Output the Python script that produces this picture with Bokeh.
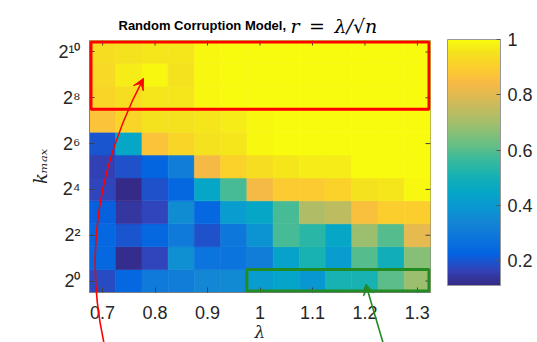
import numpy as np
from bokeh.plotting import figure
from bokeh.layouts import column
from bokeh.models import (ColumnDataSource, LinearColorMapper, ColorBar, FixedTicker,
                          Range1d, BoxAnnotation, Arrow, VeeHead, Label)
from bokeh.transform import transform
from bokeh.embed import file_html
from bokeh.resources import INLINE

# ---------------- data ----------------
lam = [0.70, 0.75, 0.80, 0.85, 0.90, 0.95, 1.00, 1.05, 1.10, 1.15, 1.20, 1.25, 1.30]
kexp = [0, 1, 2, 3, 4, 5, 6, 7, 8, 9, 10]          # k_max = 2**kexp
r_k0 = [0.18, 0.24, 0.30, 0.31, 0.34, 0.35, 0.41, 0.44, 0.39, 0.51, 0.51, 0.61, 0.69]
r_k1 = [0.24, 0.12, 0.17, 0.37, 0.28, 0.28, 0.31, 0.43, 0.51, 0.41, 0.60, 0.49, 0.66]
r_k2 = [0.24, 0.20, 0.24, 0.30, 0.19, 0.29, 0.38, 0.58, 0.54, 0.45, 0.69, 0.60, 0.81]
r_k3 = [0.22, 0.14, 0.17, 0.36, 0.24, 0.41, 0.45, 0.58, 0.72, 0.74, 0.86, 0.90, 0.90]
r_k4 = [0.17, 0.11, 0.19, 0.24, 0.45, 0.58, 0.84, 0.89, 0.89, 0.91, 0.95, 0.96, 0.99]
r_k5 = [0.16, 0.19, 0.23, 0.31, 0.84, 0.91, 0.94, 0.96, 0.97, 0.97, 1.00, 1.00, 1.00]
r_k6 = [0.20, 0.45, 0.87, 0.92, 0.95, 0.96, 0.99, 1.00, 1.00, 1.00, 1.00, 1.00, 1.00]
r_k7 = [0.87, 0.92, 0.95, 0.95, 0.96, 0.97, 0.99, 1.00, 1.00, 1.00, 1.00, 1.00, 1.00]
r_k8 = [0.92, 0.94, 0.96, 0.96, 0.99, 1.00, 1.00, 1.00, 1.00, 1.00, 1.00, 1.00, 1.00]
r_k9 = [0.93, 0.97, 0.99, 0.95, 0.99, 1.00, 1.00, 1.00, 1.00, 1.00, 1.00, 1.00, 1.00]
r_k10 = [0.94, 0.95, 0.96, 0.96, 0.99, 1.00, 1.00, 1.00, 1.00, 1.00, 1.00, 1.00, 1.00]
rows = [r_k0, r_k1, r_k2, r_k3, r_k4, r_k5, r_k6, r_k7, r_k8, r_k9, r_k10]

xtick_vals = [0.7, 0.8, 0.9, 1.0, 1.1, 1.2, 1.3]
xtick_labels = ["0.7", "0.8", "0.9", "1", "1.1", "1.2", "1.3"]
ytick_vals = [0, 2, 4, 6, 8, 10]
ytick_labels = ["2⁰", "2²", "2⁴", "2⁶", "2⁸", "2¹⁰"]
cbar_tick_vals = [0.2, 0.4, 0.6, 0.8, 1.0]
cbar_tick_labels = ["0.2", "0.4", "0.6", "0.8", "1"]

# ---------------- parula colormap ----------------
_anch = [
    (0.2081, 0.1663, 0.5292), (0.1959, 0.2645, 0.7279), (0.0117, 0.3875, 0.8820),
    (0.0498, 0.4586, 0.8641), (0.0793, 0.5200, 0.8312), (0.0343, 0.5966, 0.8199),
    (0.0228, 0.6535, 0.7768), (0.0843, 0.6928, 0.7062), (0.2178, 0.7250, 0.6193),
    (0.3953, 0.7459, 0.5244), (0.5709, 0.7485, 0.4494), (0.7184, 0.7411, 0.3905),
    (0.8507, 0.7299, 0.3360), (0.9739, 0.7314, 0.2666), (0.9880, 0.8066, 0.1794),
    (0.9589, 0.8949, 0.1132), (0.9763, 0.9831, 0.0538)]
_pos = np.array([0, 4, 8, 12, 16, 20, 24, 28, 32, 36, 40, 44, 48, 52, 56, 60, 63]) / 63.0
_a = np.array(_anch)
_t = np.linspace(0, 1, 256)
parula = ["#%02x%02x%02x" % tuple(int(round(255 * np.interp(tt, _pos, _a[:, c]))) for c in range(3))
          for tt in _t]

# ---------------- layout (canvas pixels) ----------------
FL, FW, FT, FH = 89, 341, 40, 252
W, H = 537, 342
x0, x1 = 0.675, 1.325
y0, y1 = -0.5, 10.5
DX = (x1 - x0) / FW      # data per px
DY = (y1 - y0) / FH


def px(sx, sy):
    """canvas pixel -> data coordinates"""
    return (float(x0 + (sx - FL) * DX), float(y0 + (FT + FH - sy) * DY))


p = figure(frame_width=FW, frame_height=FH, x_range=Range1d(x0, x1), y_range=Range1d(y0, y1),
           output_backend="svg", toolbar_location=None, title=None,
           min_border_left=FL, min_border_right=W - FL - FW, min_border_top=FT,
           min_border_bottom=H - FT - FH)
p.grid.visible = False
p.outline_line_color = "#808080"
p.outline_line_width = 1
p.background_fill_color = "white"

xs, ys, vs = [], [], []
for k, row in zip(kexp, rows):
    for l, v in zip(lam, row):
        xs.append(l); ys.append(k); vs.append(v)
src = ColumnDataSource(dict(x=xs, y=ys, v=vs))
mapper = LinearColorMapper(palette=parula, low=min(vs), high=max(vs))
p.rect("x", "y", width=0.05, height=1, source=src,
       fill_color=transform("v", mapper), line_color=transform("v", mapper), line_width=0.6)

# tick marks on the top and right edges (box on, ticks pointing in)
TL = 5
p.segment(x0=xtick_vals, y0=[y1] * len(xtick_vals), x1=xtick_vals,
          y1=[y1 - TL * DY] * len(xtick_vals), line_color="#404040", line_width=1)
p.segment(x0=[x1] * len(ytick_vals), y0=ytick_vals, x1=[x1 - TL * DX] * len(ytick_vals),
          y1=ytick_vals, line_color="#404040", line_width=1)

TICKC = "#262626"
FONT = "Liberation Sans"


def style_axis(ax):
    ax.major_tick_in = TL
    ax.major_tick_out = 0
    ax.minor_tick_line_color = None
    ax.axis_line_color = "#808080"
    ax.axis_line_width = 1
    ax.major_tick_line_color = "#404040"
    ax.major_label_text_font = FONT
    ax.major_label_text_color = TICKC
    ax.major_label_text_font_size = "18px"


xa = p.xaxis[0]
xa.ticker = FixedTicker(ticks=xtick_vals)
xa.major_label_overrides = dict(zip(xtick_vals, xtick_labels))
style_axis(xa)
xa.major_label_standoff = 13

ya = p.yaxis[0]
ya.ticker = FixedTicker(ticks=ytick_vals)
ya.major_label_overrides = dict(zip(ytick_vals, ytick_labels))
style_axis(ya)
ya.major_label_standoff = 9
ya.axis_label = "kₘₐₓ"
ya.axis_label_text_font = "DejaVu Serif"
ya.axis_label_text_font_style = "italic"
ya.axis_label_text_font_size = "18px"
ya.axis_label_text_color = TICKC
ya.axis_label_standoff = 4

# colour bar
cb = ColorBar(color_mapper=mapper, ticker=FixedTicker(ticks=cbar_tick_vals),
              major_label_overrides=dict(zip(cbar_tick_vals, cbar_tick_labels)),
              location=(358, 7), width=53, height=246, padding=0, margin=0,
              orientation="vertical", background_fill_alpha=0, border_line_color=None,
              bar_line_color="#999999", bar_line_width=1,
              major_tick_in=4, major_tick_out=0, major_tick_line_color="#555555",
              minor_tick_line_color=None, major_label_text_font=FONT,
              major_label_text_font_size="18px", major_label_text_color=TICKC,
              label_standoff=7)
p.add_layout(cb)

# highlight boxes (inset half a line width so the whole stroke is inside the frame)
RED, GREEN = "#ff0000", "#238b23"
p.add_layout(BoxAnnotation(left=x0 + 1.5 * DX, right=x1 - 1.5 * DX, bottom=7.5,
                           top=y1 - 1.5 * DY, fill_alpha=0, fill_color=None,
                           line_color=RED, line_alpha=1, line_width=3))
p.add_layout(BoxAnnotation(left=0.975, right=x1 - 1.5 * DX, bottom=y0 + 1.5 * DY, top=0.5,
                           fill_alpha=0, fill_color=None,
                           line_color=GREEN, line_alpha=1, line_width=3))

# title (two parts) placed in the top panel so they are not clipped
t1 = px(118, 25)
p.add_layout(Label(x=t1[0], y=t1[1], text="Random Corruption Model,", text_font=FONT,
                   text_font_style="bold", text_font_size="13px", text_color="#000000",
                   text_align="left", text_baseline="alphabetic"), "above")
t2 = px(290, 25)
p.add_layout(Label(x=t2[0], y=t2[1], text="r\u2002=\u2002λ/√n", text_font="DejaVu Serif",
                   text_font_style="italic", text_font_size="19px", text_color="#000000",
                   text_align="left", text_baseline="alphabetic"), "above")
# x-axis label (in the left panel, which has spare room, so it is not clipped)
lx = px(259.5, 331)
p.add_layout(Label(x=lx[0], y=lx[1], text="λ", text_font="DejaVu Serif",
                   text_font_style="italic", text_font_size="17px", text_color=TICKC,
                   text_align="center", text_baseline="alphabetic"), "left")

# ---------------- transparent overlay for the arrows (canvas-pixel coordinates) ----------------
ov = figure(width=W, height=H, x_range=Range1d(0, W), y_range=Range1d(H, 0),
            output_backend="svg", toolbar_location=None, title=None,
            x_axis_location=None, y_axis_location=None,
            min_border_left=0, min_border_right=0, min_border_top=0, min_border_bottom=0)
ov.grid.visible = False
ov.outline_line_color = None
ov.background_fill_color = None
ov.border_fill_color = None
ov.styles = {"position": "absolute", "top": "0px", "left": "0px"}

# curved red arrow (quadratic Bezier) ending at the red box
P0, PC, P2 = (24.0, 346.0), (-25.0, 210.0), (85.0, 78.0)
ov.quadratic(x0=[P0[0]], y0=[P0[1]], x1=[P2[0]], y1=[P2[1]], cx=[PC[0]], cy=[PC[1]],
             line_color=RED, line_width=1.6)
tg = np.array([P2[0] - PC[0], P2[1] - PC[1]])
tg = tg / np.hypot(*tg)
ov.add_layout(Arrow(x_start=P2[0] - 8 * tg[0], y_start=P2[1] - 8 * tg[1], x_end=P2[0], y_end=P2[1],
                    line_color=RED, line_width=1.6,
                    end=VeeHead(size=11, fill_color=RED, line_color=RED, line_width=1)))

# straight green arrow ending at the green box
G0, G1 = (464.0, 346.0), (435.0, 283.5)
ov.add_layout(Arrow(x_start=G0[0], y_start=G0[1], x_end=G1[0], y_end=G1[1],
                    line_color=GREEN, line_width=1.6,
                    end=VeeHead(size=11, fill_color=GREEN, line_color=GREEN, line_width=1)))

layout = column(p, ov)
open("out.html", "w").write(file_html(layout, INLINE))
